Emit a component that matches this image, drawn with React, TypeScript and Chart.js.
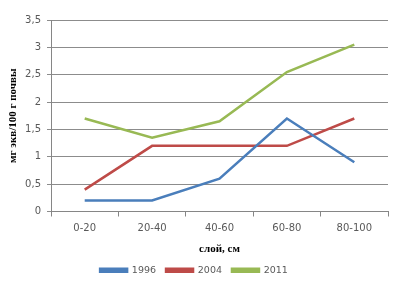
import React, { useEffect, useRef } from "react";
import { Chart, registerables } from "chart.js";

Chart.register(...registerables);

const categories = ["0-20", "20-40", "40-60", "60-80", "80-100"];
const series1996 = [0.2, 0.2, 0.6, 1.7, 0.9];
const series2004 = [0.4, 1.2, 1.2, 1.2, 1.7];
const series2011 = [1.7, 1.35, 1.65, 2.55, 3.05];
const seriesLabels = ["1996", "2004", "2011"];
const seriesColors = ["#4A7EBB", "#BE4B48", "#98B954"];
const yTicks = [0, 0.5, 1, 1.5, 2, 2.5, 3, 3.5];

export default function App() {
  const ref = useRef<HTMLCanvasElement | null>(null);
  useEffect(() => {
    if (!ref.current) return;
    const data = [series1996, series2004, series2011];
    const chart = new Chart(ref.current, {
      type: "line",
      data: {
        labels: categories,
        datasets: data.map((d, i) => ({
          label: seriesLabels[i],
          data: d,
          borderColor: seriesColors[i],
          backgroundColor: seriesColors[i],
          borderWidth: 2.5,
          pointRadius: 0,
          tension: 0,
        })),
      },
      options: {
        animation: false,
        responsive: false,
        maintainAspectRatio: false,
        layout: { padding: { top: 20, right: 16, left: 0, bottom: 2 } },
        plugins: {
          tooltip: { enabled: false },
          legend: {
            position: "bottom",
            labels: {
              boxWidth: 27,
              boxHeight: 3,
              padding: 10,
              color: "#595959",
              font: { family: "DejaVu Sans", size: 9.5 },
            },
          },
        },
        scales: {
          x: {
            offset: true,
            grid: {
              display: true,
              offset: true,
              drawOnChartArea: false,
              drawTicks: true,
              tickLength: 5,
              color: "#868686",
            },
            border: { color: "#868686", width: 1 },
            ticks: {
              color: "#595959",
              font: { family: "DejaVu Sans", size: 10 },
              padding: 6,
              maxRotation: 0,
            },
            title: {
              display: true,
              text: "слой, см",
              color: "#000000",
              font: { family: "Liberation Serif", size: 11, weight: "bold" },
              padding: { top: 4, bottom: 0 },
            },
            afterFit: (s: any) => {
              s.height = 44;
            },
          },
          y: {
            min: 0,
            max: 3.5,
            afterBuildTicks: (s: any) => {
              s.ticks = yTicks.map((v) => ({ value: v }));
            },
            grid: {
              color: "#8c8c8c",
              drawTicks: true,
              tickLength: 4,
            },
            border: { color: "#868686", width: 1 },
            ticks: {
              color: "#595959",
              font: { family: "DejaVu Sans", size: 10 },
              padding: 6,
              callback: (v: any) => String(v).replace(".", ","),
            },
            title: {
              display: true,
              text: "мг экв/100 г почвы",
              color: "#000000",
              font: { family: "Liberation Serif", size: 11, weight: "bold" },
              padding: { top: 7, bottom: 4 },
            },
            afterFit: (s: any) => {
              s.width = 51;
            },
          },
        },
      },
    });
    return () => chart.destroy();
  }, []);
  return (
    <div style={{ position: "fixed", left: 0, top: 0, width: 404, height: 287, background: "#fff" }}>
      <canvas ref={ref} width={404} height={287} />
    </div>
  );
}
